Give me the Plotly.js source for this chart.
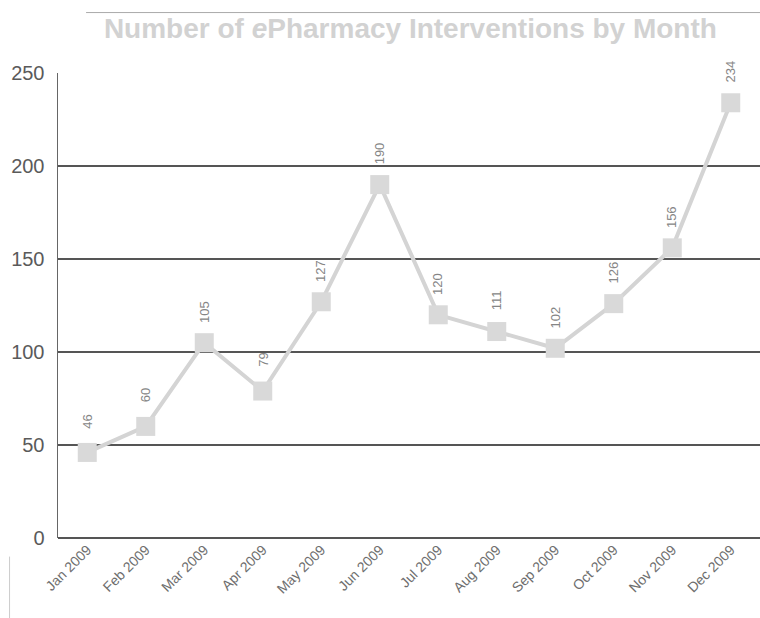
<!DOCTYPE html>
<html><head><meta charset="utf-8">
<script src="https://cdn.plot.ly/plotly-3.0.1.min.js"></script>
<style>body{margin:0;background:#fff}#chart{width:760px;height:618px}</style>
</head><body><div id="chart"></div>
<script>
const months = ["Jan 2009","Feb 2009","Mar 2009","Apr 2009","May 2009","Jun 2009","Jul 2009","Aug 2009","Sep 2009","Oct 2009","Nov 2009","Dec 2009"];
const interventions = [46,60,105,79,127,190,120,111,102,126,156,234];
const yTicks = [0,50,100,150,200,250];

const trace = {
  x: months, y: interventions, type: 'scatter', mode: 'lines+markers',
  line: {color: '#d4d4d4', width: 4},
  marker: {symbol: 'square', size: 19, color: '#d9d9d9'},
  hoverinfo: 'skip', cliponaxis: false
};
const annotations = months.map((m, i) => ({
  x: m, y: interventions[i], xref: 'x', yref: 'y',
  text: String(interventions[i]), textangle: -90, showarrow: false,
  yshift: 31, font: {family: 'Liberation Sans, Arial, sans-serif', size: 13, color: '#858585'}
}));
const layout = {
  width: 760, height: 618,
  margin: {l: 58, r: 0, t: 73, b: 80},
  paper_bgcolor: '#fff', plot_bgcolor: '#fff',
  title: {text: 'Number of <i>e</i>Pharmacy Interventions by Month', x: 0.54, xanchor: 'center', y: 0.97, yanchor: 'top',
    font: {family: 'Liberation Sans, Arial, sans-serif', size: 28, color: '#d2d2d2', weight: 'bold'}},
  xaxis: {type: 'category', range: [-0.5, 11.5], showgrid: false, zeroline: false,
    showline: false, ticks: '', tickangle: -45,
    tickfont: {family: 'Liberation Sans, Arial, sans-serif', size: 14, color: '#6e6e6e'}},
  yaxis: {range: [0, 250], tickvals: yTicks, showgrid: true, gridcolor: '#555', gridwidth: 1.5,
    zeroline: true, zerolinecolor: '#555', zerolinewidth: 2,
    showline: true, linecolor: '#666', linewidth: 1.5, ticks: '', ticklen: 0, ticklabelstandoff: 8,
    tickfont: {family: 'Liberation Sans, Arial, sans-serif', size: 20, color: '#5a5a5a'}},
  showlegend: false,
  annotations: annotations,
  shapes: [
    {type: 'line', xref: 'paper', yref: 'paper', x0: 0.04, x1: 1.0, y0: 1.13, y1: 1.13, line: {color: '#aaa', width: 1}},
    {type: 'line', xref: 'paper', yref: 'paper', x0: -0.069, x1: -0.069, y0: -0.04, y1: -0.2, line: {color: '#ccc', width: 1}}
  ]
};
Plotly.newPlot('chart', [trace], layout, {displayModeBar: false, staticPlot: true});
</script></body></html>
